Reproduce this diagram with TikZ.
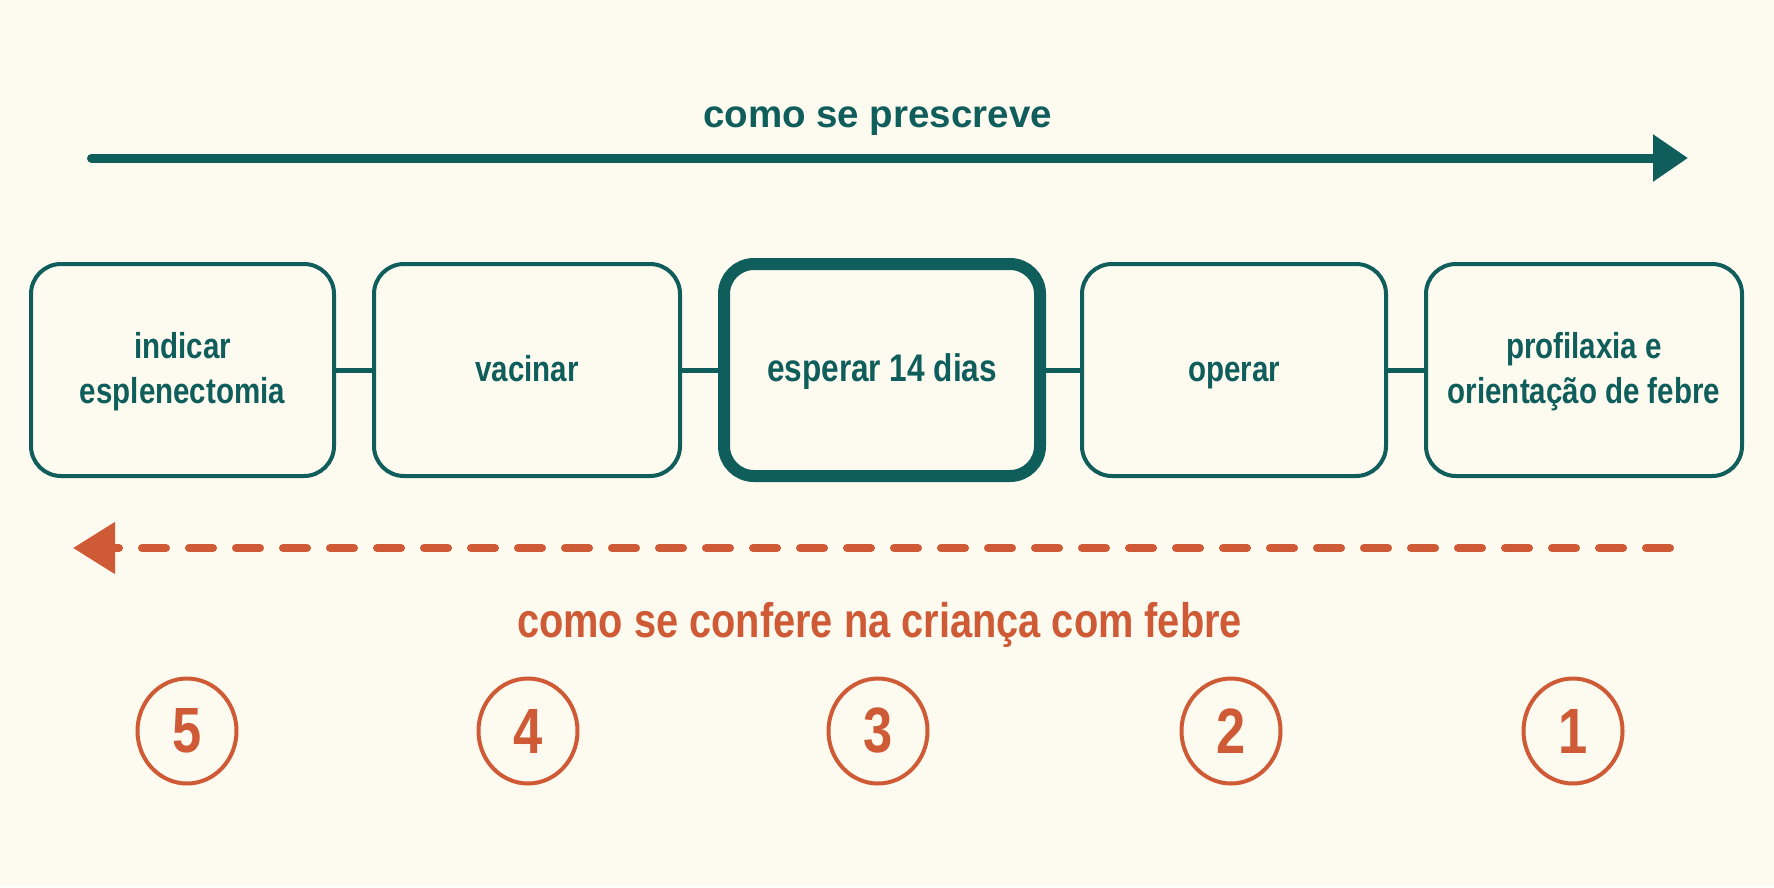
\documentclass[tikz,border=0pt]{standalone}
\usepackage{fontspec}
\setmainfont{Liberation Sans}
\newfontfamily\narrowfont[FakeStretch=0.82]{Liberation Sans}
\usetikzlibrary{arrows.meta,shapes.geometric}
\definecolor{bgc}{HTML}{FDFAF0}
\definecolor{teal}{HTML}{0F5E5B}
\definecolor{rust}{HTML}{CF5A36}
\newcommand\bxs{\rule[-8pt]{0pt}{38pt}}
\tikzset{
  stepbox/.style={draw=teal, line width=4pt, rounded corners=30pt, fill=bgc,
    inner sep=0pt, align=center, text=teal,
    font=\narrowfont\bfseries\fontsize{36}{45}\selectfont},
  mainbox/.style={stepbox, line width=12pt, font=\narrowfont\bfseries\fontsize{38.5}{45}\selectfont},
  link/.style={draw=teal, line width=5pt},
  numring/.style={ellipse, draw=rust, line width=4pt, inner sep=0pt,
    minimum width=99pt, minimum height=105pt, text=rust,
    font=\narrowfont\bfseries\fontsize{64}{64}\selectfont},
}
\begin{document}
\begin{tikzpicture}[x=1pt,y=-1pt]
\fill[bgc] (0,0) rectangle (1774,887);
\useasboundingbox (0,0) rectangle (1774,887);
% top arrow
\node[anchor=base, text=teal, font=\bfseries\fontsize{38.5}{40}\selectfont] (ttl) at (877.5,127) {como se prescreve};
\coordinate (ta) at (91.5,158);
\coordinate (tb) at (1688,158);
\draw[teal, line width=9pt, line cap=round, -{Triangle[length=35pt,width=45pt]}] (ta) -- (tb);
% boxes
\node[stepbox, minimum width=303pt, minimum height=212pt] (b1) at (182.5,370) {\bxs indicar\\\bxs esplenectomia};
\node[stepbox, minimum width=306pt, minimum height=212pt] (b2) at (527,370) {\bxs vacinar};
\node[mainbox, minimum width=316pt, minimum height=212pt] (b3) at (882,370) {\bxs esperar 14 dias};
\node[stepbox, minimum width=304pt, minimum height=212pt] (b4) at (1234,370) {\bxs operar};
\node[stepbox, minimum width=316pt, minimum height=212pt] (b5) at (1584,370) {\bxs profilaxia e\\\bxs orientação de febre};
\draw[link] (b1) -- (b2);
\draw[link] (b2) -- (b3);
\draw[link] (b3) -- (b4);
\draw[link] (b4) -- (b5);
% bottom dashed arrow
\coordinate (da) at (1670,548);
\coordinate (db) at (73,548);
\draw[rust, line width=8pt, line cap=round, dash pattern=on 24pt off 23pt,
  -{Triangle[length=42pt,width=50pt]}] (da) -- (db);
\node[anchor=base, text=rust, font=\narrowfont\bfseries\fontsize{48.5}{50}\selectfont] (sub) at (879.5,637) {como se confere na criança com febre};
% numbers
\node[numring] (n5) at (187,731) {5};
\node[numring] (n4) at (528,731) {4};
\node[numring] (n3) at (878,731) {3};
\node[numring] (n2) at (1231,731) {2};
\node[numring] (n1) at (1573,731) {1};
\end{tikzpicture}
\end{document}
